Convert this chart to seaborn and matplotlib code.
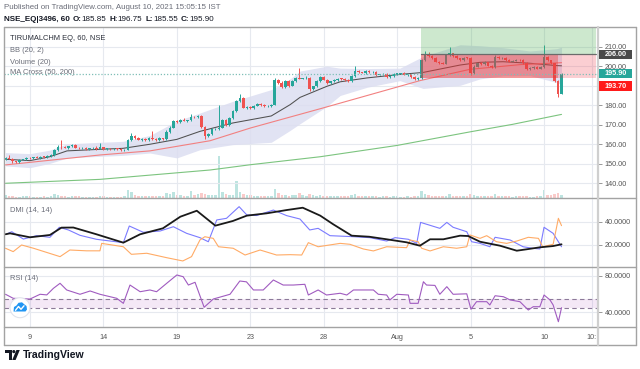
import matplotlib
matplotlib.use('Agg')

import numpy as np
import pandas as pd
import matplotlib.pyplot as plt
import seaborn as sns
from matplotlib.lines import Line2D
from matplotlib.patches import Rectangle, Circle, Polygon
from matplotlib.transforms import Affine2D


# 60 min candles, 8 Jul -> 10 Aug 2021 (7 bars a day, 6 on the last day)
first_open = 152.2
closes = [
    153.0, 152.6, 151.2, 151.0, 152.0, 152.3, 153.0,   # Jul 8
    152.8, 153.4, 153.0, 153.6, 153.4, 154.0, 154.6,   # Jul 9
    157.0, 158.7, 158.4, 158.2, 158.9, 159.6, 158.2,   # Jul 12
    157.9, 158.1, 157.6, 157.9, 158.3, 157.8, 158.4,   # Jul 13
    157.6, 157.8, 157.4, 157.6, 157.5, 156.8, 157.3,   # Jul 14
    162.0, 164.2, 163.0, 162.3, 162.8, 162.2, 163.2,   # Jul 15
    162.6, 162.2, 163.0, 162.7, 166.5, 168.5, 171.8,   # Jul 16
    171.2, 172.6, 172.0, 172.3, 174.2, 173.8, 174.4,   # Jul 19
    169.0, 164.2, 165.2, 167.6, 167.8, 168.4, 172.4,   # Jul 20
    169.8, 173.4, 176.8, 182.0, 183.6, 178.8, 179.0,   # Jul 22
    178.6, 179.8, 180.6, 180.2, 179.4, 179.6, 180.2,   # Jul 23
    193.0, 191.6, 189.4, 192.4, 190.0, 192.3, 194.0,   # Jul 26
    193.6, 193.8, 194.2, 188.2, 189.6, 192.4, 194.6,   # Jul 27
    193.0, 191.4, 192.2, 192.8, 193.6, 193.4, 192.9,   # Jul 28
    192.4, 194.8, 197.4, 196.8, 196.6, 197.4, 196.8,   # Jul 29
    197.0, 195.6, 195.8, 196.0, 194.4, 195.0, 196.0,   # Jul 30
    196.2, 196.4, 195.6, 195.8, 194.6, 193.4, 193.8,   # Aug 2
    203.2, 206.2, 205.0, 204.1, 202.4, 201.8, 201.3,   # Aug 3
    205.6, 206.6, 205.2, 204.1, 203.2, 204.4, 204.2,   # Aug 4
    196.6, 199.8, 201.4, 201.0, 202.0, 200.2, 199.6,   # Aug 5
    204.8, 204.0, 204.2, 203.2, 202.4, 202.8, 203.4,   # Aug 6
    203.0, 201.6, 198.4, 199.2, 199.8, 198.8, 199.4,   # Aug 9
    204.6, 203.0, 201.4, 192.6, 185.85, 195.9,         # Aug 10
]
wick_hi = [
    0.4, 1.6, 0.3, 0.4, 0.5, 0.3, 0.6,
    0.5, 0.3, 0.6, 0.4, 0.3, 0.5, 0.4,
    0.6, 0.8, 3.4, 0.5, 0.4, 0.6, 0.3,
    0.4, 0.3, 0.5, 0.3, 0.4, 0.6, 2.0,
    0.3, 0.4, 0.3, 0.5, 0.3, 0.4, 0.3,
    0.6, 1.8, 0.4, 0.5, 0.3, 0.4, 0.5,
    3.8, 0.4, 0.5, 0.3, 0.6, 0.8, 0.6,
    0.5, 0.4, 0.6, 0.3, 1.4, 0.5, 0.7,
    0.8, 0.5, 0.6, 0.7, 0.5, 11.5, 0.4,
    0.5, 0.4, 0.6, 0.5, 2.0, 0.6, 0.5,
    0.6, 0.4, 0.5, 0.3, 0.4, 0.5, 0.3,
    0.8, 0.5, 0.6, 0.4, 0.5, 0.5, 0.6,
    5.0, 0.4, 0.6, 0.5, 0.4, 0.5, 0.6,
    0.5, 0.4, 0.3, 0.5, 0.4, 0.3, 0.4,
    0.4, 0.6, 2.8, 0.4, 0.3, 0.5, 0.4,
    0.5, 0.4, 0.3, 0.6, 0.4, 0.5, 0.3,
    0.4, 0.3, 0.5, 0.3, 0.4, 0.3, 0.6,
    0.6, 1.4, 0.9, 0.5, 0.4, 0.3, 0.4,
    0.5, 3.4, 0.4, 0.5, 0.3, 0.5, 0.4,
    0.4, 0.6, 0.4, 0.5, 0.6, 0.4, 0.3,
    0.7, 0.4, 0.5, 0.3, 0.4, 0.3, 0.5,
    0.4, 0.5, 0.3, 0.6, 0.4, 0.3, 0.5,
    6.2, 0.5, 0.4, 0.3, 0.4, 0.85,
]
wick_lo = [
    0.5, 0.3, 0.6, 0.8, 0.4, 0.3, 0.5,
    0.4, 0.5, 0.3, 0.4, 0.5, 0.3, 0.4,
    0.5, 0.4, 0.6, 0.3, 0.5, 0.4, 0.3,
    0.4, 0.5, 0.3, 0.4, 0.3, 0.5, 0.4,
    0.3, 0.4, 0.5, 0.3, 0.4, 0.3, 0.5,
    0.4, 0.5, 0.4, 0.3, 0.5, 0.4, 0.3,
    0.5, 0.4, 0.3, 0.4, 0.5, 0.6, 0.4,
    0.4, 0.5, 0.3, 0.4, 0.5, 0.4, 0.3,
    0.6, 1.6, 0.4, 0.3, 0.5, 0.4, 0.3,
    0.4, 0.6, 0.3, 0.4, 0.5, 0.3, 0.5,
    0.5, 0.4, 0.3, 0.5, 0.4, 0.3, 0.4,
    0.3, 0.5, 0.6, 0.4, 0.5, 0.3, 0.4,
    0.4, 0.3, 0.5, 0.7, 0.4, 0.3, 0.4,
    0.3, 0.5, 0.4, 0.3, 0.4, 0.5, 0.3,
    0.4, 0.3, 0.5, 0.4, 0.3, 0.4, 0.3,
    0.5, 0.4, 0.3, 0.4, 0.5, 0.3, 0.4,
    0.3, 0.4, 0.3, 0.5, 0.4, 0.6, 0.4,
    0.4, 0.5, 0.3, 0.4, 0.3, 0.5, 0.4,
    0.3, 0.4, 0.5, 0.3, 0.4, 0.3, 0.5,
    0.9, 0.4, 0.3, 0.5, 0.4, 0.3, 0.5,
    0.4, 0.3, 0.5, 0.4, 0.3, 0.4, 0.3,
    0.3, 0.4, 0.5, 0.3, 0.4, 0.3, 0.4,
    0.4, 0.3, 0.4, 0.5, 1.6, 0.3,
]
# volume in thousand shares
volume = [
    30, 22, 18, 15, 14, 16, 24,
    20, 15, 12, 14, 16, 13, 25,
    40, 35, 22, 18, 15, 16, 20,
    18, 15, 12, 13, 15, 14, 22,
    16, 14, 12, 15, 13, 14, 20,
    80, 60, 30, 22, 18, 16, 24,
    25, 20, 18, 22, 50, 40, 57,
    35, 28, 22, 20, 67, 30, 38,
    55, 45, 30, 28, 35, 420, 60,
    40, 30, 35, 166, 60, 40, 30,
    30, 22, 20, 25, 18, 16, 22,
    90, 50, 35, 30, 25, 28, 35,
    50, 30, 25, 45, 30, 25, 30,
    25, 20, 18, 22, 20, 18, 22,
    22, 30, 40, 22, 18, 16, 20,
    20, 18, 15, 18, 16, 14, 22,
    18, 15, 14, 16, 15, 18, 22,
    66, 40, 28, 22, 20, 18, 24,
    25, 40, 22, 18, 16, 18, 20,
    45, 30, 22, 20, 18, 16, 22,
    40, 25, 20, 18, 16, 15, 20,
    18, 16, 20, 15, 14, 16, 22,
    76, 35, 28, 40, 50, 35,
]

# time axis: trading-day index of labelled days
tick_days = [1, 4, 7, 10, 13, 16, 19, 22]
tick_labels = ['9', '14', '19', '23', '28', 'Aug', '5', '10']

# Bollinger (20,2) at bar positions
bb_bar = [0, 7, 12.7, 17.6, 27, 33.6, 41.3, 49, 55.6, 65, 76, 81.4, 84.2, 91.9,
          95.7, 103.4, 112.8, 119.4, 130, 135.7, 142.3, 150, 157.7, 159]
bb_mid = [152.3, 151.6, 153.6, 156.6, 157.4, 157.9, 160.0, 162.5, 166.6, 170.9, 174.5,
          180.3, 184.0, 189.7, 192.0, 194.0, 195.8, 196.8, 200.6, 202.0, 202.3, 201.5,
          200.3, 200.2]
bb_up = [155.7, 155.2, 157.0, 160.2, 161.0, 161.5, 164.5, 172.0, 176.0, 182.0, 188.0,
         193.5, 197.5, 200.0, 199.0, 198.8, 199.0, 205.0, 211.0, 210.5, 209.5, 207.8,
         209.0, 209.8]
bb_lo = [148.9, 148.0, 150.2, 153.0, 153.8, 154.3, 155.5, 153.0, 157.2, 159.8, 161.0,
         167.1, 170.5, 179.4, 185.0, 189.2, 192.6, 188.6, 190.2, 193.5, 195.1, 195.2,
         191.6, 190.6]

# MA cross (50, 200)
ma50_bar = [0, 27, 41.3, 58.5, 70, 90.8, 118.5, 132.8, 147.1, 159]
ma50_val = [149.4, 154.5, 156.6, 161.8, 168.3, 178.6, 192.6, 198.4, 200.8, 201.8]
ma200_bar = [0, 27, 58.5, 70, 90, 112, 133, 145, 159]
ma200_val = [140.0, 142.0, 146.8, 149.5, 153.6, 159.4, 166.4, 170.2, 175.3]

# DMI (14, 14)
adx_bar = [0, 1.3, 7, 12.7, 16, 19.4, 26, 33.7, 38.5, 45, 50, 54.7, 60, 65, 69, 74.7,
           80.4, 85, 90, 93.7, 99, 104, 109, 114.7, 118.5, 121.4, 125.2, 130, 132.3,
           135.7, 141.4, 146.2, 149, 152.8, 156.6, 159]
adx_val = [29.2, 30, 26.6, 28.6, 34.9, 35, 29.2, 22, 29.2, 34.3, 44.3, 49.4, 36.6, 40.6,
           45.2, 47.2, 50, 52, 45.2, 37.8, 28, 27.1, 24.9, 22.3, 19.4, 24.9, 24.9, 28,
           27.7, 22.8, 19.4, 15.1, 16.3, 18, 19.1, 20.6]
pdi_bar = [0, 1.8, 5.1, 8.9, 12.7, 15.4, 18, 21.3, 26, 33.7, 35.4, 39.4, 44.2, 48, 51.8,
           55.6, 58, 60.4, 63.2, 66.8, 69, 71.8, 76.6, 80.4, 84.2, 87, 89.4, 92.8, 99,
           104.2, 109, 111.4, 115.2, 117.6, 118.7, 124.2, 126.2, 128, 131.9, 133.3,
           135.7, 138.5, 140, 144.3, 148, 150.9, 152.8, 154, 156.6, 159]
pdi_val = [29, 31.4, 25.1, 28, 26.6, 35.2, 32.9, 28.3, 24.9, 22, 36.3, 30.9, 32, 35.7, 30,
           26.3, 22.8, 41.5, 42.9, 52.9, 45.8, 45.3, 50, 45.2, 42.3, 32.9, 34.3, 28, 27.2,
           26.3, 23.4, 26.3, 24.9, 21.4, 39.4, 34.3, 39.4, 35.2, 31.4, 22.8, 21.4, 18.5,
           26.6, 24.3, 18.5, 17.1, 16.6, 35.2, 30, 18.5]
mdi_bar = [0, 2.2, 4.6, 8, 15.6, 18.4, 23.2, 27, 27.5, 33.7, 36, 40.4, 46.1, 50.7, 53.2,
           55.6, 57, 59.4, 60.9, 65.1, 68.5, 72.8, 77.5, 81.4, 84.7, 86.6, 89.4, 95.7,
           98.5, 102.3, 105.2, 109, 114.7, 115.7, 118, 119, 121.4, 125.2, 129, 131.9,
           132.8, 135.7, 137.6, 140.4, 143.3, 146.2, 149.5, 152.4, 153.6, 156.6, 158.1, 159]
mdi_val = [17.2, 14.3, 20, 17.2, 10, 15.7, 15, 15, 21.4, 18.5, 12, 12.9, 9.1, 6.3, 10,
           24.3, 27.1, 25.7, 18.5, 17.2, 11.4, 15.7, 11.4, 11.7, 11.4, 22, 18.5, 21.4,
           20.6, 16.6, 14.9, 18.5, 17.7, 24.3, 22.8, 17.2, 14.9, 18.5, 17.2, 18.5, 28.6,
           25.7, 28, 22.8, 21.4, 23.4, 26.6, 25.7, 18.5, 20.6, 42.9, 36.6]

# RSI (14)
rsi_bar = [0, 2.2, 7, 9.9, 11.8, 13.7, 15.6, 17.5, 21.3, 24.2, 27, 31.8, 33.7, 35.6, 38.5,
           41.3, 43.2, 46.1, 49, 50.8, 52.3, 54.2, 56.8, 59.4, 64.2, 67, 68.9, 70.9, 73.7,
           76.6, 79.4, 82.3, 85.6, 86.6, 89.4, 91.8, 95.7, 97.6, 99.5, 105.2, 106.6, 109,
           109.9, 111.9, 115.2, 115.7, 118, 119.5, 120.4, 122.8, 124.2, 126.2, 128, 131.9,
           133.1, 134.7, 137.6, 138.5, 140, 142.4, 144.3, 147.1, 149.5, 150.9, 152.8, 154,
           155.7, 156.6, 158.1, 159]
rsi_val = [59.7, 55.3, 54.5, 59.7, 59, 66.2, 71.7, 64.4, 59.7, 63.3, 59.7, 55.3, 49.8, 69.8,
           62.5, 64.4, 62.5, 71.7, 80.8, 78.9, 69.8, 72.8, 45.5, 54.5, 59.7, 74.2, 73.3,
           64.4, 64.4, 75.3, 69.8, 69.8, 70.6, 58.9, 64.4, 58.9, 60.8, 58.9, 64.4, 64.4,
           59.7, 58.9, 53.5, 59.7, 58.9, 49.8, 49.8, 73.4, 69.8, 69.4, 59.7, 68, 59.7, 60.2,
           43.3, 51.6, 51.6, 48, 58.1, 57, 53.5, 51.6, 42.5, 46.1, 46.1, 58.9, 53.5, 48,
           29.7, 45]
rsi_band = (45, 55)

# long position drawing
entry_price = 206.0
stop_price = 193.7
entry_bar = 118.8


UP = '#26a69a'
DOWN = '#ef5350'
GRID = '#e6e9ef'
FRAME = '#a3a3a3'
TXT = '#555555'

sns.set_theme(style='white')
plt.rcParams['font.family'] = ['Liberation Sans', 'DejaVu Sans']

W, H = 640, 369
fig = plt.figure(figsize=(W / 100, H / 100), dpi=100)
px = Affine2D().scale(1 / W, -1 / H).translate(0, 1) + fig.transFigure


def box(top, bottom):
    return [4 / W, 1 - bottom / H, 594 / W, (bottom - top) / H]


df = pd.DataFrame({'close': closes, 'wh': wick_hi, 'wl': wick_lo, 'vol': volume})
df['open'] = [first_open] + closes[:-1]
df['high'] = df[['open', 'close']].max(axis=1) + df['wh']
df['low'] = df[['open', 'close']].min(axis=1) - df['wl']
df['bar'] = np.arange(len(df))
df['up'] = df['close'] >= df['open']
df['color'] = np.where(df['up'], UP, DOWN)

xlim = (-0.43, 169.43)
tick_pos = [7 * d for d in tick_days]

ax_vol = fig.add_axes(box(27.3, 198))
ax = fig.add_axes(box(27.3, 198))
ax_dmi = fig.add_axes(box(198, 266.7))
ax_rsi = fig.add_axes(box(266.7, 327.3))
ax.patch.set_alpha(0)

# volume
ax_vol.bar(df['bar'], df['vol'], width=0.72, color=df['color'], alpha=0.3, linewidth=0)
ax_vol.set_xlim(*xlim)
ax_vol.set_ylim(0, 1710)
ax_vol.axis('off')

# bollinger band + moving averages
ax.fill_between(bb_bar, bb_lo, bb_up, color='#dcdef1', alpha=0.85, lw=0, zorder=1)
sns.lineplot(x=bb_bar, y=bb_mid, ax=ax, color='#505050', lw=0.75, estimator=None, sort=False, zorder=2)
sns.lineplot(x=ma50_bar, y=ma50_val, ax=ax, color='#f28080', lw=0.8, estimator=None, sort=False, zorder=2)
sns.lineplot(x=ma200_bar, y=ma200_val, ax=ax, color='#7cc47f', lw=0.8, estimator=None, sort=False, zorder=2)

# candles
ax.vlines(df['bar'], df['low'], df['high'], colors=df['color'], lw=0.7, zorder=3)
body = (df['close'] - df['open']).abs().clip(lower=0.4)
ax.bar(df['bar'], body, bottom=df[['open', 'close']].min(axis=1), width=0.74,
       color=df['color'], linewidth=0, zorder=3)

# long position tool
x_end = 169.0
ax.add_patch(Rectangle((entry_bar, entry_price), x_end - entry_bar, 30, fc='#4caf50', alpha=0.28, lw=0, zorder=4))
ax.add_patch(Rectangle((entry_bar, stop_price), x_end - entry_bar, entry_price - stop_price, fc='#f23645', alpha=0.24, lw=0, zorder=4))
ax.add_patch(Rectangle((entry_bar, stop_price), len(df) - 2 - entry_bar, entry_price - stop_price, fc='#e53935', alpha=0.36, lw=0, zorder=4))
ax.plot([entry_bar, x_end], [entry_price, entry_price], color='#6b6b6b', lw=0.9, zorder=5)
ax.axhline(closes[-1], color='#7fbfb7', lw=0.9, ls=(0, (1, 1.5)), zorder=5)

ax.set_xlim(*xlim)
ax.set_ylim(132.45, 219.94)
ax.set_yticks(range(140, 211, 10))
ax.yaxis.set_major_formatter(plt.FormatStrFormatter('%.2f'))

# DMI
sns.lineplot(x=pdi_bar, y=pdi_val, ax=ax_dmi, color='#7b7bff', lw=0.8, estimator=None, sort=False)
sns.lineplot(x=mdi_bar, y=mdi_val, ax=ax_dmi, color='#ffab66', lw=0.8, estimator=None, sort=False)
sns.lineplot(x=adx_bar, y=adx_val, ax=ax_dmi, color='#1a1a1a', lw=1.3, estimator=None, sort=False)
ax_dmi.set_xlim(*xlim)
ax_dmi.set_ylim(1.37, 60.34)
ax_dmi.set_yticks([20, 40])
ax_dmi.yaxis.set_major_formatter(plt.FormatStrFormatter('%.4f'))

# RSI
ax_rsi.axhspan(*rsi_band, color='#9c27b0', alpha=0.1, lw=0)
for lvl in rsi_band:
    ax_rsi.axhline(lvl, color='#8c7a99', lw=0.8, ls=(0, (4, 3)))
sns.lineplot(x=rsi_bar, y=rsi_val, ax=ax_rsi, color='#a05bc0', lw=0.8, estimator=None, sort=False)
ax_rsi.set_xlim(*xlim)
ax_rsi.set_ylim(23.6, 89.84)
ax_rsi.set_yticks([40, 80])
ax_rsi.yaxis.set_major_formatter(plt.FormatStrFormatter('%.4f'))

for a in (ax, ax_dmi, ax_rsi):
    a.set_xlabel('')
    a.set_ylabel('')
    for s in a.spines.values():
        s.set_visible(False)
    a.yaxis.tick_right()
    a.set_xticks(tick_pos + [167.7])
    a.grid(True, color=GRID, lw=0.8, zorder=0)
    a.set_axisbelow(True)
    a.tick_params(axis='y', labelsize=5.2, labelcolor=TXT, color='#888888',
                  length=3, width=0.6, pad=1.8, right=True, left=False)
    a.tick_params(axis='x', length=0, labelbottom=False)
ax_rsi.set_xticklabels(tick_labels + ['10:'])
ax_rsi.tick_params(axis='x', labelbottom=True, labelsize=5.2, labelcolor=TXT, pad=5)

# pane captions
ax.text(10, 39, 'TIRUMALCHM EQ, 60, NSE', transform=px, fontsize=5.4, color='#2a2e39', va='center')
for y, s in [(51, 'BB (20, 2)'), (62, 'Volume (20)'), (72.7, 'MA Cross (50, 200)')]:
    ax.text(10, y, s, transform=px, fontsize=5.4, color='#6a6d78', va='center')
fig.text(10, 210, 'DMI (14, 14)', transform=px, fontsize=5.4, color='#6a6d78', va='center')
fig.text(10, 278.5, 'RSI (14)', transform=px, fontsize=5.4, color='#6a6d78', va='center')


# price labels on the scale
def price_tag(y_val, text, fc):
    y = H - ax.transData.transform((0, y_val))[1]
    fig.add_artist(Rectangle((599, y - 4.8), 33, 9.6, transform=px, fc=fc, ec='none', zorder=3))
    fig.text(615.5, y, text, transform=px, fontsize=5.2, color='white', fontweight='bold',
             ha='center', va='center', zorder=4)


price_tag(entry_price, '%.2f' % entry_price, '#4a4a4a')
price_tag(closes[-1] + 0.4, '%.2f' % closes[-1], '#26a69a')
price_tag(stop_price - 3.9, '%.2f' % stop_price, '#ff1a1a')


# frame
def hline(y, x0=4, x1=636, c=FRAME, lw=1.0):
    fig.add_artist(Line2D([x0, x1], [y, y], transform=px, color=c, lw=lw))


hline(27.3)
hline(198)
hline(266.7)
hline(327.3)
hline(345)
fig.add_artist(Line2D([4, 4], [27.3, 345], transform=px, color=FRAME, lw=1.0))
fig.add_artist(Line2D([636, 636], [27.3, 345], transform=px, color=FRAME, lw=1.0))
fig.add_artist(Line2D([598, 598], [27.3, 345], transform=px, color='#cfcfcf', lw=1.6))

# header
fig.text(4, 7.5, 'Published on TradingView.com, August 10, 2021 15:05:15 IST', transform=px,
         fontsize=5.7, color='#6a6d78', va='center')
last = df.iloc[-1]
parts = [('NSE_EQ|3496, 60', 'bold', 3), ('O:', 'bold', 0), ('%.2f' % last['open'], 'normal', 3),
         ('H:', 'bold', 0), ('%.2f' % last['high'], 'normal', 3), ('L:', 'bold', 0),
         ('%.2f' % last['low'], 'normal', 3), ('C:', 'bold', 0), ('%.2f' % last['close'], 'normal', 0)]
renderer = fig.canvas.get_renderer()
x = 4
for s, wgt, gap in parts:
    t = fig.text(x, 19.5, s, transform=px, fontsize=5.8, color='#131722', fontweight=wgt, va='center')
    x += t.get_window_extent(renderer).width + gap

# TradingView logo
fig.add_artist(Polygon([(5, 350), (11.5, 350), (11.5, 360), (8.5, 360), (8.5, 353), (5, 353)],
                       closed=True, transform=px, fc='#131722', ec='none'))
fig.add_artist(Circle((0.138, (H - 351.6) / 100), 0.016, transform=fig.dpi_scale_trans, fc='#131722', ec='none'))
fig.add_artist(Polygon([(12.2, 360), (16.4, 350), (19.8, 350), (15.6, 360)], closed=True,
                       transform=px, fc='#131722', ec='none'))
fig.text(22.5, 355.5, 'TradingView', transform=px, fontsize=7.6, fontweight='bold', color='#131722', va='center')

# round logo button in the RSI pane
fig.add_artist(Circle((0.20, (H - 307.7) / 100), 0.10, transform=fig.dpi_scale_trans,
                      fc='white', ec='#e0e3eb', lw=0.8, zorder=5))
fig.add_artist(Polygon([(13.5, 311.5), (14, 307), (16.5, 305.5), (18.5, 302.8), (22, 302.3),
                        (24.5, 304.5), (26.5, 306), (27, 309.5), (25.5, 311.5)], closed=True,
                       transform=px, fc='#2196f3', ec='none', zorder=6))
fig.add_artist(Line2D([15.5, 18.5, 21, 24], [310.3, 306.5, 309.3, 305.8], transform=px,
                      color='white', lw=1.0, zorder=7))

fig.savefig('out.png', dpi=100)
